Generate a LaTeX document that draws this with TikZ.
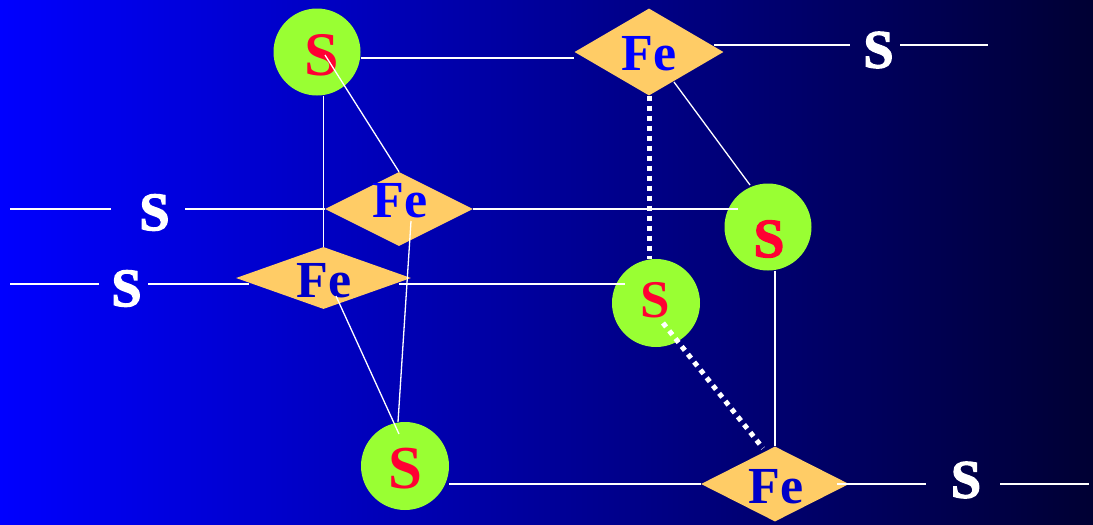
\documentclass[tikz,border=0pt]{standalone}
\usepackage{fontspec}
\setmainfont{Liberation Serif}
\newfontfamily\heavyserif[BoldFeatures={FakeBold=2.5}]{Liberation Serif}
\usetikzlibrary{shapes.geometric}
\definecolor{atomgreen}{RGB}{153,255,51}
\definecolor{ironorange}{RGB}{255,204,102}
\definecolor{sulfurred}{RGB}{255,0,51}
\definecolor{ironblue}{RGB}{0,0,200}
\definecolor{bgdark}{RGB}{0,0,51}
\begin{document}
\begin{tikzpicture}[x=1pt,y=-1pt,
    sulfur/.style={circle, fill=atomgreen, minimum size=87pt, inner sep=0pt},
    iron/.style={diamond, fill=ironorange, inner sep=0pt},
    sulfurtext/.style={inner sep=0pt, text=sulfurred, font=\fontsize{#1}{#1}\selectfont\bfseries},
    sulfurheavy/.style={inner sep=0pt, text=sulfurred, font=\fontsize{55}{55}\selectfont\heavyserif\bfseries},
    irontext/.style={inner sep=0pt, text=ironblue, font=\fontsize{52}{52}\selectfont\bfseries},
    freeatom/.style={inner sep=0pt, text=white, font=\fontsize{54}{54}\selectfont\heavyserif\bfseries},
    bond/.style={draw=white, line width=1.7pt},
    thinbond/.style={draw=white, line width=1.3pt},
    backbond/.style={draw=white, line width=5pt, dash pattern=on 5pt off 5pt}
]
\shade[left color=blue, right color=bgdark] (0,0) rectangle (1093,525);
\useasboundingbox (0,0) rectangle (1093,525);
% atoms
\node[sulfur] (sTop) at (317,52) {};
\node[sulfur] (sRight) at (768,227) {};
\node[sulfur, minimum size=88pt] (sMid) at (656,303) {};
\node[sulfur, minimum size=88pt] (sBottom) at (405,466) {};
\node[iron, minimum width=149pt, minimum height=87pt] (feTop) at (649,52) {};
\node[iron, minimum width=148pt, minimum height=74pt] (feBack) at (399,209) {};
\node[iron, minimum width=175pt, minimum height=62pt] (feFront) at (323.5,278) {};
\node[iron, minimum width=148pt, minimum height=75pt] (feBottom) at (775,484) {};
\node[sulfurtext=62] (sTopText) at (322,55.5) {S};
\node[sulfurheavy] (sRightText) at (769,239) {S};
\node[sulfurtext=53] (sMidText) at (655.5,300.5) {S};
\node[sulfurtext=61] (sBottomText) at (405.5,468.5) {S};
\node[irontext, text=blue] (feTopText) at (649,54) {Fe};
\node[irontext, text=blue] (feBackText) at (400,201) {Fe};
\node[irontext] (feFrontText) at (324,281) {Fe};
\node[irontext] (feBottomText) at (776,487) {Fe};
\node[freeatom] (sFreeTop) at (878.5,50) {S};
\node[freeatom] (sFreeBack) at (154.5,212.5) {S};
\node[freeatom] (sFreeFront) at (126.5,288.5) {S};
\node[freeatom] (sFreeBottom) at (966,480) {S};
\coordinate (endTop) at (988,45);
\coordinate (endBack) at (10,209);
\coordinate (endFront) at (10,284);
\coordinate (endBottom) at (1089,484);
% open bonds
\draw[bond] ([shift={(21.5,-5)}]sFreeTop.center) -- (endTop);
\draw[bond] ([shift={(-43.5,-3.5)}]sFreeBack.center) -- (endBack);
\draw[bond] ([shift={(-27.5,-4.5)}]sFreeFront.center) -- (endFront);
\draw[bond] ([shift={(34,4)}]sFreeBottom.center) -- (endBottom);
% bonds
\draw[bond] ([yshift=-6pt]sTop.east) -- ([yshift=-6pt]feTop.west);
\draw[bond] ([shift={(65,-7)}]feTop.center) -- ([shift={(-28.5,-5)}]sFreeTop.center);
\draw[bond] ([shift={(30.5,-3.5)}]sFreeBack.center) -- (feBack.west);
\draw[bond] (feBack.east) -- ([shift={(-30,-18)}]sRight.center);
\draw[bond] ([shift={(21.5,-4.5)}]sFreeFront.center) -- ([shift={(-75,6)}]feFront.center);
\draw[bond] ([shift={(75,6)}]feFront.center) -- ([shift={(-31,-19)}]sMid.center);
\draw[bond] ([yshift=-18pt]sBottom.east) -- (feBottom.west);
\draw[bond] ([shift={(62,0)}]feBottom.center) -- ([shift={(-40,4)}]sFreeBottom.center);
\draw[thinbond] (feFront.north |- sTop.south) -- (feFront.north);
\draw[thinbond] (feBottom.north |- sRight.south) -- (feBottom.north);
\draw[thinbond] ([shift={(8,3)}]sTop.center) -- (feBack.north);
\draw[thinbond] ([shift={(25,30)}]feTop.center) -- ([shift={(-18,-42)}]sRight.center);
\draw[thinbond] ([shift={(12.5,18)}]feFront.center) -- ([shift={(-6,-32)}]sBottom.center);
\draw[thinbond] ([shift={(12,12)}]feBack.center) -- ([shift={(-7,-44)}]sBottom.center);
\draw[backbond] (feTop.south) -- (feTop.south |- sMid.north);
\draw[backbond] ([shift={(7,20)}]sMid.center) -- ([shift={(-12,2)}]feBottom.north);
\end{tikzpicture}
\end{document}
